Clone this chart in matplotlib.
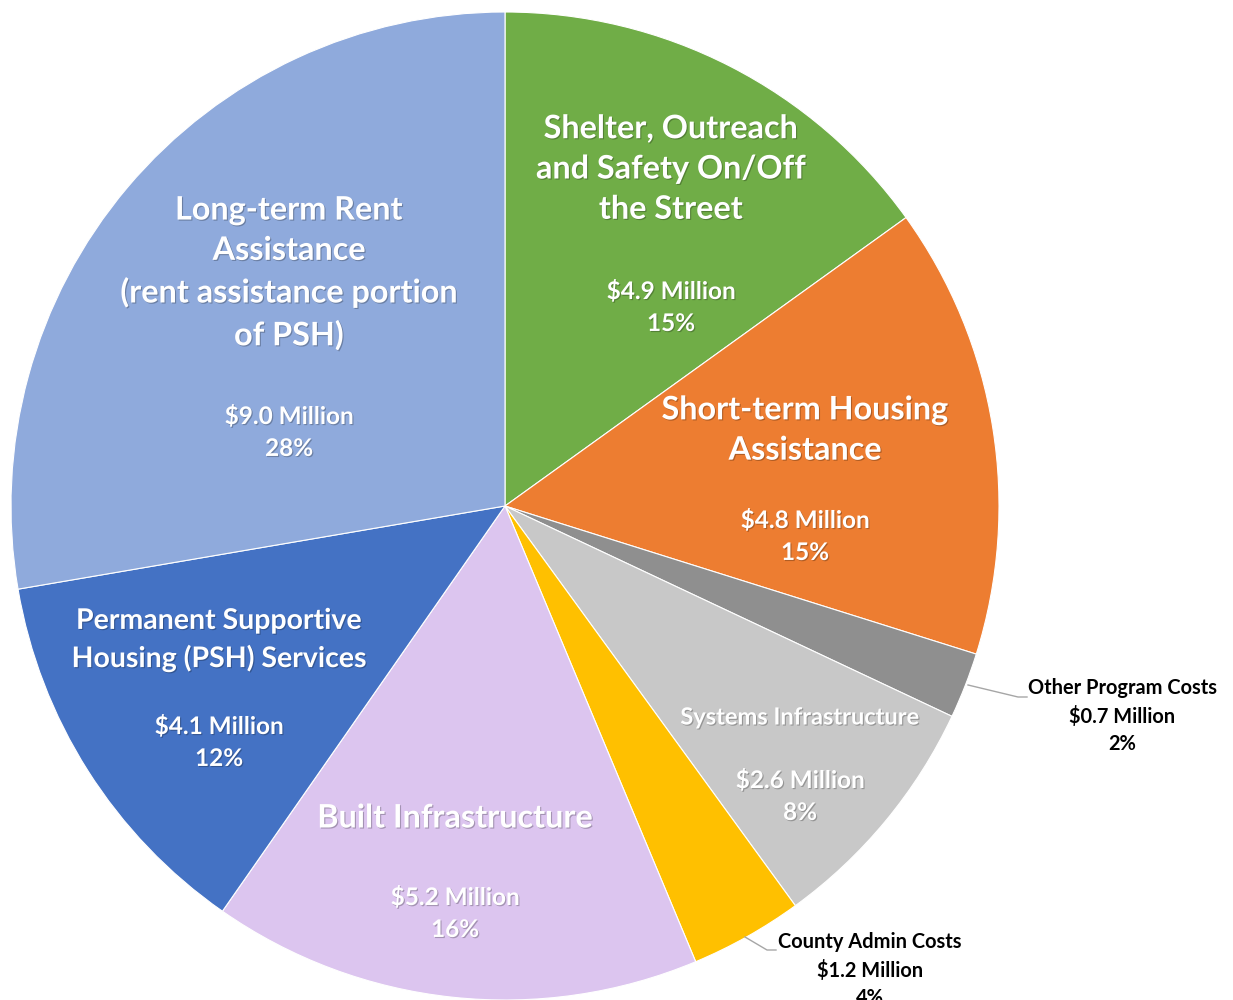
import matplotlib
matplotlib.use("Agg")
import matplotlib.pyplot as plt
import matplotlib.patheffects as pe

# ========= data =========
categories = ["Shelter, Outreach\nand Safety On/Off\nthe Street",
              "Short-term Housing\nAssistance",
              "Other Program Costs",
              "Systems Infrastructure",
              "County Admin Costs",
              "Built Infrastructure",
              "Permanent Supportive\nHousing (PSH) Services",
              "Long-term Rent\nAssistance\n(rent assistance portion\nof PSH)"]
millions = [4.9, 4.8, 0.7, 2.6, 1.2, 5.2, 4.1, 9.0]
percents = [15, 15, 2, 8, 4, 16, 12, 28]
colors = ["#70ad47", "#ed7d31", "#8f8f8f", "#c8c8c8",
          "#ffc000", "#dcc5ef", "#4472c4", "#8faadc"]

plt.rcParams['font.family'] = ['Lato', 'DejaVu Sans']

W, H = 1233, 1000
fig = plt.figure(figsize=(W / 100, H / 100), dpi=100)
ax = fig.add_axes([0, 0, 1, 1])

cx, cy, R = 505, 506, 494
ax.pie(millions, colors=colors, startangle=90, counterclock=False,
       center=(cx, H - cy), radius=R,
       wedgeprops=dict(edgecolor='white', linewidth=0.8), frame=True)
ax.set_xlim(0, W)
ax.set_ylim(0, H)
ax.axis('off')

shadow = [pe.withSimplePatchShadow(offset=(0.8, -0.8), shadow_rgbFace='black', alpha=0.25)]

def txt(x, y, s, size, color='white'):
    t = ax.text(x, H - y, s, ha='center', va='center', fontsize=size,
                fontweight='bold', color=color, linespacing=1.47)
    if color == 'white':
        t.set_path_effects(shadow)

def value_str(i):
    return "$%.1f Million\n%d%%" % (millions[i], percents[i])

# inside labels: (x, title y, title size, value y, value size)
inside = {0: (671, 169, 23.3, 307, 17.5),
          1: (805, 430, 23.3, 536, 17.5),
          3: (800, 717, 17, 796, 17.5),
          5: (455, 818, 23.3, 913, 17.5),
          6: (219, 640, 20.5, 742, 17.5),
          7: (289, 273, 23.3, 432, 17.5)}
for i, (x, y, s, vy, vs) in inside.items():
    txt(x, y, categories[i], s)
    txt(x, vy, value_str(i), vs)

# outside labels with leader lines
txt(1122, 716, categories[2] + "\n" + value_str(2), 14.4, color='black')
ax.plot([968, 1018, 1027], [H - 685, H - 697, H - 697], color='#a6a6a6', lw=1)
txt(870, 970, categories[4] + "\n" + value_str(4), 14.4, color='black')
ax.plot([745, 767, 776], [H - 937, H - 950, H - 950], color='#a6a6a6', lw=1)

fig.savefig("out.png", dpi=100)
